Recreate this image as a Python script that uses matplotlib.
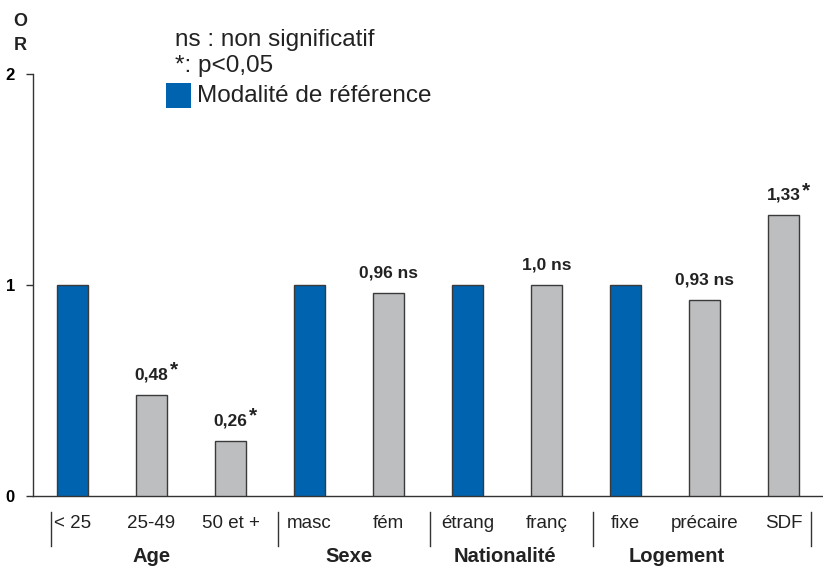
import matplotlib
matplotlib.use("Agg")
import matplotlib.pyplot as plt
import matplotlib.transforms as mtransforms

# data
categories = ["< 25", "25-49", "50 et +", "masc", "fém",
              "étrang", "franç", "fixe", "précaire", "SDF"]
odds_ratio = [1.0, 0.48, 0.26, 1.0, 0.96, 1.0, 1.0, 1.0, 0.93, 1.33]
is_reference = [True, False, False, True, False, True, False, True, False, False]
value_labels = ["", "0,48", "0,26", "", "0,96 ns", "", "1,0 ns", "", "0,93 ns", "1,33"]
significant = [False, True, True, False, False, False, False, False, False, True]
groups = ["Age", "Sexe", "Nationalité", "Logement"]

# layout
group_label_x = [1.0, 3.5, 5.47, 7.65]
separator_x = [-0.27, 2.6, 4.53, 6.59, 9.35]

BLUE = "#0063b0"
GREY = "#bdbec0"
EDGE = "#3a3a3a"
TXT = "#222222"
plt.rcParams["font.family"] = ["Liberation Sans", "DejaVu Sans"]

fig = plt.figure(figsize=(8.23, 5.67), dpi=100)
ax = fig.add_axes([33 / 823, 71 / 567, 790 / 823, 422 / 567])

colors = [BLUE if r else GREY for r in is_reference]
x = list(range(len(categories)))
ax.bar(x, odds_ratio, width=0.405, color=colors, edgecolor=EDGE, linewidth=1.0, zorder=3)

for xi, v, lab, sig in zip(x, odds_ratio, value_labels, significant):
    if not lab:
        continue
    t = ax.annotate(lab, (xi, v), xytext=(0, 9), textcoords="offset points",
                    ha="center", va="bottom", fontsize=12.5, fontweight="bold", color=TXT)
    if sig:
        ax.annotate("*", xy=(1, 1), xycoords=t, xytext=(1, 5), textcoords="offset points",
                    ha="left", va="top", fontsize=15, fontweight="bold", color=TXT)

ax.set_xlim(-0.5, 9.5)
ax.set_ylim(0, 2)
ax.set_yticks([0, 1, 2])
ax.set_yticklabels(["0", "1", "2"], fontsize=12, fontweight="bold")
ax.tick_params(axis="y", length=5, width=1, color="#333333", pad=8)
ax.set_xticks(x)
ax.set_xticklabels(categories, fontsize=13.5, color=TXT)
ax.tick_params(axis="x", length=0, pad=14)

for side in ["top", "right"]:
    ax.spines[side].set_visible(False)
for side in ["left", "bottom"]:
    ax.spines[side].set_color("#333333")
    ax.spines[side].set_linewidth(1.0)

trans = mtransforms.blended_transform_factory(ax.transData, fig.transFigure)
for sx in separator_x:
    ax.plot([sx, sx], [1 - 512 / 567, 1 - 546 / 567], transform=trans,
            color="#333333", lw=1.0, clip_on=False)
for gx, g in zip(group_label_x, groups):
    ax.text(gx, 1 - 557 / 567, g, transform=trans, ha="center", va="center",
            fontsize=14.5, fontweight="bold", color=TXT)

# axis title, stacked letters
fig.text(20 / 823, 1 - 22 / 567, "O", ha="center", va="center", fontsize=13, fontweight="bold", color=TXT)
fig.text(20 / 823, 1 - 45 / 567, "R", ha="center", va="center", fontsize=13, fontweight="bold", color=TXT)

# legend written as text
fig.text(175 / 823, 1 - 40 / 567, "ns : non significatif", ha="left", va="center", fontsize=17.5, color=TXT)
fig.text(175 / 823, 1 - 66 / 567, "*: p<0,05", ha="left", va="center", fontsize=17.5, color=TXT)
fig.patches.append(plt.Rectangle((166 / 823, 1 - 108 / 567), 25 / 823, 25 / 567,
                                 transform=fig.transFigure, facecolor=BLUE, edgecolor="none"))
fig.text(197 / 823, 1 - 96 / 567, "Modalité de référence", ha="left", va="center", fontsize=17.5, color=TXT)

fig.savefig("out.png", dpi=100)
